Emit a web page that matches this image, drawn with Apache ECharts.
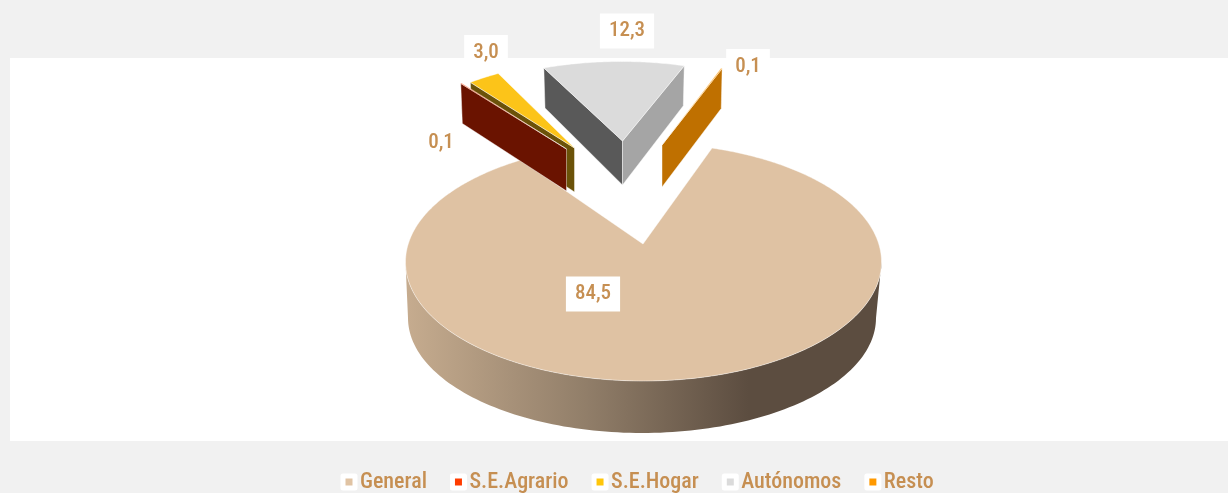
<!DOCTYPE html>
<html><head><meta charset="utf-8">
<style>html,body{margin:0;padding:0;background:#f1f1f1}#c{width:1228px;height:493px}</style>
<script src="https://cdn.jsdelivr.net/npm/echarts@6/dist/echarts.min.js"></script>
</head><body><div id="c"></div>
<script>
const categories = ['General','S.E.Agrario','S.E.Hogar','Autónomos','Resto'];
const values = [84.5,0.1,3.0,12.3,0.1];
const legendColors = ['#e0c3a3','#ff3c00','#ffc60a','#dbdbdb','#ff9900'];
const START_ANGLE = 19.8;

// geometry of each exploded slice: apex, rim ellipse, ray flattening, depth, faces, label
const layout = [
 {z:2, apex:[643,244], c:[643.5,262], rx:238, ry:119, k:.5,  top:'#dfc2a3', side:true, lab:[593,294]},
 {z:4, apex:[566.5,149], c:[600,180], rx:238, ry:119, k:.45, top:'#ff3c00', d0:42, d1:40, startFace:'#6a1300', lab:[441,143]},
 {z:3, apex:[574.5,148], c:[612,178], rx:238, ry:119, k:.452,top:'#fcc419', d0:44, d1:42, startFace:'#6b5209', lab:[486,52.5]},
 {z:5, apex:[622.5,141], c:[621,180.5], rx:238, ry:119, k:.43, top:'#dbdbdb', d0:44, d1:40, startFace:'#595959', endFace:'#a5a5a5', lab:[627,31]},
 {z:6, apex:[662,145], c:[620,176],   rx:238, ry:119, k:.458,top:'#ff9800', d0:42, d1:40, endFace:'#bf7000', lab:[748,66.5]}
];
const bottomRim = {c:[642,318], rx:234, ry:115};
const labelColor = '#c68f52';
const FONT = '"Roboto Condensed","Liberation Sans",sans-serif';
const EDGE = 'rgba(255,255,255,.55)';

const rad = a => a*Math.PI/180;
function rimPhi(L, theta){ // ray from the apex at angle theta hits the rim ellipse
  const t0 = rad(theta);
  const vx = Math.sin(t0)/L.rx, vy = -L.k*Math.cos(t0)/L.ry;
  const px = (L.apex[0]-L.c[0])/L.rx, py = (L.apex[1]-L.c[1])/L.ry;
  const a = vx*vx+vy*vy, b = 2*(px*vx+py*vy), c = px*px+py*py-1;
  const t = (-b+Math.sqrt(b*b-4*a*c))/(2*a);
  return Math.atan2(px+vx*t, -(py+vy*t));
}
const onRim = (E,phi) => [E.c[0]+E.rx*Math.sin(phi), E.c[1]-E.ry*Math.cos(phi)];
function face(L, phi, color){
  const r = onRim(L,phi);
  const bx = r[0] + (L.apex[0]-r[0])*0.015;
  return {type:'polygon', shape:{points:[L.apex, r, [bx,r[1]+L.d1], [L.apex[0],L.apex[1]+L.d0]]},
          style:{fill:color, stroke:EDGE, lineWidth:.8}};
}
function makeRender(i, cumBefore){
  return function(params, api){
    const L = layout[i], v = api.value(0);
    const a0 = START_ANGLE + cumBefore*3.6, a1 = a0 + v*3.6;
    let p0 = rimPhi(L,a0), p1 = rimPhi(L,a1);
    while(p1 < p0) p1 += 2*Math.PI;
    const pts = [L.apex];
    const n = Math.max(2, Math.ceil((p1-p0)/0.01));
    for(let j=0;j<=n;j++) pts.push(onRim(L,p0+(p1-p0)*j/n));
    const children = [];
    if(L.side){
      const s = [];
      for(let j=0;j<=120;j++) s.push(onRim(L,rad(90+180*j/120)));
      for(let j=120;j>=0;j--) s.push(onRim(bottomRim,rad(90+180*j/120)));
      children.push({type:'polygon', shape:{points:s}, style:{
        fill:new echarts.graphic.LinearGradient(0,0,1,0,[
          {offset:0,color:'#c6ac8f'},{offset:.38,color:'#917e69'},{offset:.72,color:'#5c4d40'},{offset:1,color:'#5c4d40'}])}});
    }
    if(L.startFace) children.push(face(L,p0,L.startFace));
    if(L.endFace) children.push(face(L,p1,L.endFace));
    children.push({type:'polygon', shape:{points:pts}, style:{fill:L.top, stroke:EDGE, lineWidth:.8}});
    children.push({type:'text', x:L.lab[0], y:L.lab[1], z2:50, style:{
      text:v.toFixed(1).replace('.',','), x:0, y:0, align:'center', verticalAlign:'middle',
      fill:labelColor, fontFamily:FONT, fontSize:21, fontWeight:500,
      backgroundColor:'#fff', padding:[8,9,6,9]}});
    return {type:'group', children};
  };
}
let cum = 0;
const series = categories.map((name,i)=>{
  const s = {type:'custom', name, coordinateSystem:'none', z:layout[i].z, silent:true, animation:false,
    itemStyle:{color:legendColors[i]}, data:[[values[i]]], renderItem:makeRender(i,cum)};
  cum += values[i];
  return s;
});
const chart = echarts.init(document.getElementById('c'),null,{renderer:'canvas'});
chart.setOption({
  animation:false,
  backgroundColor:'#f1f1f1',
  graphic:[{type:'rect', z:-1, silent:true, shape:{x:10,y:58,width:1218,height:383}, style:{fill:'#fff'}}],
  legend:{
    data:categories, left:340.5, top:471, padding:0, itemGap:23, itemWidth:12, itemHeight:12,
    icon:'rect', itemStyle:{borderColor:'#fff', borderWidth:5, borderJoin:'round'},
    textStyle:{color:labelColor, fontFamily:FONT, fontSize:22, fontWeight:500}
  },
  series
});
</script></body></html>
